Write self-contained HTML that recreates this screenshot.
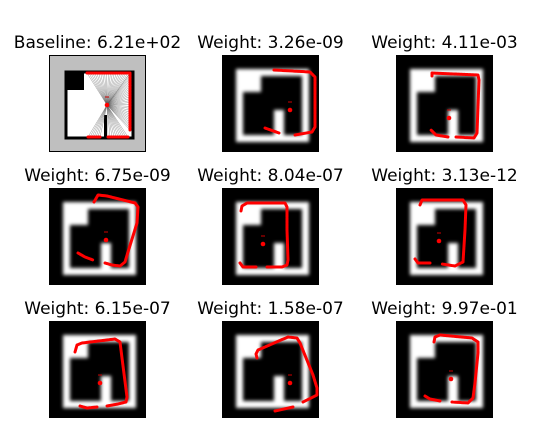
<!DOCTYPE html>
<html><head><meta charset="utf-8"><style>
html,body{margin:0;padding:0;background:#fff;width:533px;height:448px;overflow:hidden}
svg{display:block}
text{font-family:"DejaVu Sans","Liberation Sans",sans-serif;font-size:17px;fill:#000}
</style></head><body>
<svg id="fig" width="533" height="448">
<defs><filter id="blur" x="-20%" y="-20%" width="140%" height="140%"><feGaussianBlur stdDeviation="1.8"/></filter></defs>
</svg>
<script>
const titles = ["Baseline: 6.21e+02","Weight: 3.26e-09","Weight: 4.11e-03","Weight: 6.75e-09","Weight: 8.04e-07","Weight: 3.13e-12","Weight: 6.15e-07","Weight: 1.58e-07","Weight: 9.97e-01"];
// scan paths (panel-local coords, 0..97), each array a list of segments
const scans = [
 [[[38,18],[81,18],[81,75]],[[39,82],[51,82]],[[59,82],[79,82]]],
 [[[52,15],[88,17],[93,22],[93,72],[90,77],[73,80]],[[57,78],[43,73]]],
 [[[36,21],[36,18],[82,20],[83,25],[81,78],[78,83],[60,82]],[[52,82],[40,80],[35,75]]],
 [[[45,14],[49,7],[58,8],[86,15],[89,19],[88,35],[79,64],[76,74],[71,78],[63,77],[56,75]],[[29,65],[36,69],[44,72]]],
 [[[19,23],[20,18],[25,15],[63,15],[65,19],[65,42],[66,72],[65,77],[60,79],[45,79]],[[34,79],[21,79],[18,75]]],
 [[[24,17],[26,12],[67,12],[70,17],[69,42],[67,74],[59,78],[46,76]],[[34,75],[22,75],[19,71]]],
 [[[26,31],[28,24],[33,22],[66,18],[71,21],[73,37],[78,76],[77,81],[69,83],[58,85]],[[48,86],[38,87],[31,85]]],
 [[[35,37],[34,33],[36,29],[66,16],[75,17],[78,22],[91,54],[95,67],[95,74],[81,81]],[[71,86],[53,90]]],
 [[[38,21],[39,16],[44,14],[76,17],[82,21],[82,32],[79,62],[77,77],[72,82],[56,81]],[[44,80],[34,78],[29,75]]]
];
const robotX = [58,68,53,57,41,43,51,68,55];
const robotY = [50,55,63,52,56,53,62,62,58];
const colX = [49,222,396], rowY = [55,188,321], titleY = [48,181,314];
const S = 97;
const NS = "http://www.w3.org/2000/svg";
const fig = document.getElementById('fig');
function el(tag, attrs, parent){const e=document.createElementNS(NS,tag);for(const k in attrs)e.setAttribute(k,attrs[k]);(parent||fig).appendChild(e);return e;}
for(let i=0;i<9;i++){
  const r=Math.floor(i/3), c=i%3, ox=colX[c], oy=rowY[r];
  const t=el('text',{x:ox+S/2,y:titleY[r],'text-anchor':'middle'});
  
  
  t.textContent=titles[i];
  const g=el('g',{transform:`translate(${ox},${oy})`});
  
  
  if(i===0){
    el('rect',{x:0.5,y:0.5,width:S-1,height:S-1,fill:'#bfbfbf',stroke:'#000','stroke-width':1},g);
    el('rect',{x:17,y:17,width:67,height:66,fill:'#fff',stroke:'#000','stroke-width':3},g);
    el('rect',{x:16,y:16,width:19,height:19,fill:'#000'},g);
    el('rect',{x:55,y:60,width:3,height:24,fill:'#000'},g);
    scans[0].forEach(seg=>{for(let k=0;k<seg.length-1;k++){const [a,b]=[seg[k],seg[k+1]];const L=Math.hypot(b[0]-a[0],b[1]-a[1]);const n=Math.max(1,Math.round(L/2));for(let j=0;j<=n;j++){const x=a[0]+(b[0]-a[0])*j/n,y=a[1]+(b[1]-a[1])*j/n;el('line',{x1:robotX[0],y1:robotY[0],x2:x,y2:y,stroke:'#555','stroke-width':0.5,'stroke-opacity':0.6},g);}}});
  } else {
    el('rect',{x:0,y:0,width:S,height:S,fill:'#000'},g);
    const m=el('g',{filter:'url(#blur)'},g);
    el('rect',{x:17.5,y:17.5,width:66,height:66,fill:'none',stroke:'#fff','stroke-width':7},m);
    el('rect',{x:14,y:14,width:25,height:23,fill:'#fff'},m);
    el('rect',{x:52,y:55,width:10,height:25,fill:'#fff'},m);
  }
  scans[i].forEach((seg,si)=>{
    const p=el('polyline',{points:seg.map(q=>q.join(',')).join(' '),fill:'none',stroke:'#ff0000','stroke-width':3,'stroke-linecap':'round','stroke-linejoin':'round','stroke-dasharray':'2.2 0.6'},g);
    
    
  });
  const d=el('circle',{cx:robotX[i],cy:robotY[i],r:2.3,fill:'#ff0000'},g);
  
  
  el('line',{x1:robotX[i]-2,y1:robotY[i]-8,x2:robotX[i]+2,y2:robotY[i]-8,stroke:'#c00','stroke-width':1},g);
}
</script>
</body></html>
